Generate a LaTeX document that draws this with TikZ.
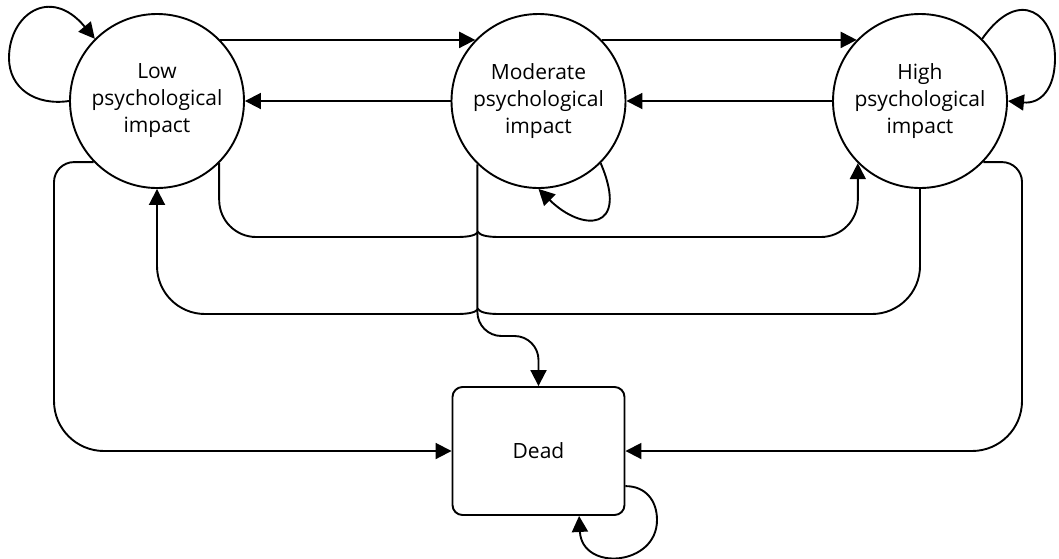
\documentclass[tikz,border=0pt]{standalone}
\usepackage{fontspec}
\setmainfont{Open Sans}
\usetikzlibrary{arrows.meta}
\tikzstyle{state} = [circle, minimum size=174pt, inner sep=0pt, align=center, draw=black, line width=1.9pt, font=\fontsize{21}{27}\selectfont]
\tikzstyle{deadbox} = [rectangle, rounded corners=10pt, minimum width=172pt, minimum height=128pt, draw=black, line width=1.9pt, font=\fontsize{21}{27}\selectfont]
\tikzstyle{arrow} = [line width=1.9pt, -{Triangle[length=16pt,width=16pt]}]

\begin{document}
\begin{tikzpicture}[node distance=381.5pt, x=1pt, y=-1pt]
    \useasboundingbox (0,0) rectangle (1059,558);
    \node (low) [state] at (157,101) {Low\\psychological\\impact};
    \node (mod) [state, right of=low] {Moderate\\psychological\\impact};
    \node (high) [state, right of=mod] {High\\psychological\\impact};
    \node (dead) [deadbox, node distance=350pt, below of=mod] {Dead};
    \draw [arrow] (low.44) -- (mod.136);
    \draw [arrow] (mod.44) -- (high.136);
    \draw [arrow] (mod.west) -- (low.east);
    \draw [arrow] (high.west) -- (mod.east);
    \draw [arrow] (low.west) .. controls (35,106) and (9,88) .. (9,58) .. controls (9,15) and (50,-15) .. (low.135);
    \draw [arrow] (high.45) .. controls (1020,-15) and (1055,15) .. (1055,58) .. controls (1055,90) and (1040,104) .. (high.east);
    \draw [arrow] (mod.-45) .. controls (630,232) and (582,232) .. (mod.south);
    \draw [arrow] (dead.-22) .. controls (645,486) and (657,500) .. (657,520) .. controls (657,566) and (582,572) .. (dead.-58);
    \draw [arrow] (low.-45) [rounded corners=37pt] -- (low.-45 |- 0,237) [sharp corners] -- (457,237)
        .. controls (470,237) and (476,235) .. (478,232) .. controls (480,235) and (486,237) .. (499,237)
        [rounded corners=37pt] -- (high.-135 |- 0,237) -- (high.-135);
    \draw [arrow] (high.south) [rounded corners=48pt] -- (high.south |- 0,314) [sharp corners] -- (499,314)
        .. controls (486,314) and (480,312) .. (478,309) .. controls (476,312) and (470,314) .. (457,314)
        [rounded corners=48pt] -- (low.south |- 0,314) -- (low.south);
    \draw [arrow, rounded corners=24pt] (mod.-134) -- (mod.-134 |- 0,336) -- (dead.north |- 0,336) -- (dead.north);
    \draw [arrow] (low.224) [rounded corners=20pt] -- (low.224 -| 54,0) [rounded corners=50pt] -- (54,0 |- dead.west) -- (dead.west);
    \draw [arrow] (high.-44) [rounded corners=20pt] -- (high.-44 -| 1022,0) [rounded corners=50pt] -- (1022,0 |- dead.east) -- (dead.east);
\end{tikzpicture}
\end{document}
